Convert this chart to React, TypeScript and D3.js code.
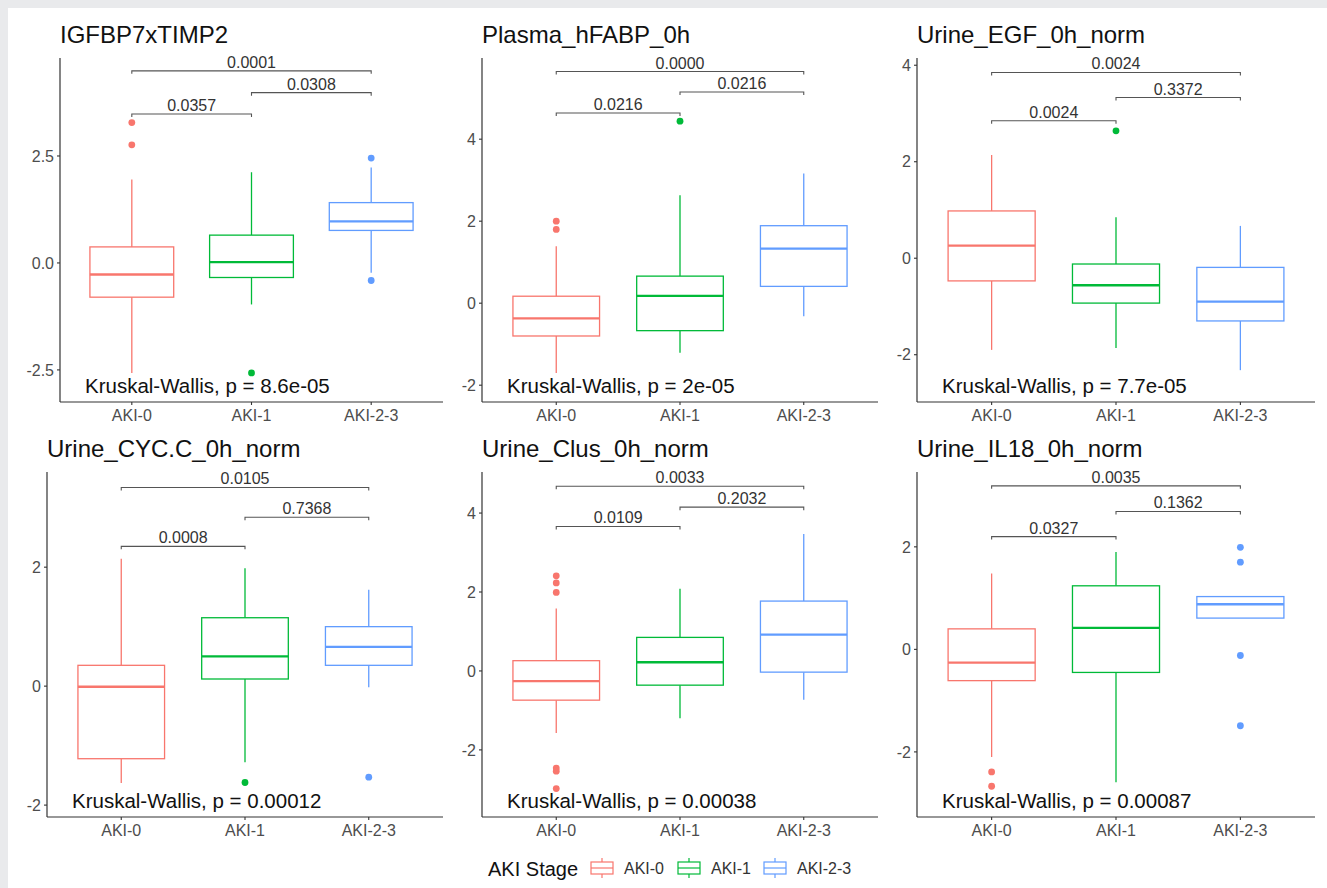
import React from "react";
import * as d3 from "d3";

// AKI stage groups and their ggplot-style hues
const groups = ["AKI-0", "AKI-1", "AKI-2-3"];
const groupColors = ["#F8766D", "#00BA38", "#619CFF"];
const legendTitle = "AKI Stage";

// Biomarkers, one panel each
const markers = [
  "IGFBP7xTIMP2",
  "Plasma_hFABP_0h",
  "Urine_EGF_0h_norm",
  "Urine_CYC.C_0h_norm",
  "Urine_Clus_0h_norm",
  "Urine_IL18_0h_norm",
];

// Box statistics per group: [lower whisker, Q1, median, Q3, upper whisker]
const igfbpBoxes = [
  [-2.57, -0.8, -0.27, 0.375, 1.95],
  [-0.97, -0.34, 0.02, 0.65, 2.12],
  [-0.23, 0.76, 0.97, 1.41, 2.23],
];
const hfabpBoxes = [
  [-1.7, -0.8, -0.37, 0.17, 1.39],
  [-1.21, -0.67, 0.18, 0.66, 2.63],
  [-0.32, 0.41, 1.33, 1.89, 3.16],
];
const egfBoxes = [
  [-1.9, -0.47, 0.26, 0.98, 2.14],
  [-1.86, -0.93, -0.56, -0.12, 0.85],
  [-2.32, -1.3, -0.9, -0.19, 0.67],
];
const cycBoxes = [
  [-1.63, -1.22, -0.01, 0.35, 2.14],
  [-1.28, 0.12, 0.5, 1.15, 1.98],
  [-0.02, 0.35, 0.66, 1.0, 1.62],
];
const clusBoxes = [
  [-1.57, -0.74, -0.26, 0.26, 1.58],
  [-1.2, -0.36, 0.22, 0.85, 2.08],
  [-0.73, -0.03, 0.92, 1.77, 3.47],
];
const il18Boxes = [
  [-2.1, -0.61, -0.26, 0.4, 1.48],
  [-2.59, -0.45, 0.42, 1.24, 1.9],
  [0.61, 0.61, 0.88, 1.03, 1.03],
];

// Outlying observations per group
const igfbpOutliers = [[3.28, 2.76], [-2.57], [2.45, -0.41]];
const hfabpOutliers = [[2.0, 1.8], [4.44], []];
const egfOutliers = [[], [2.64], []];
const cycOutliers = [[], [-1.62], [-1.53]];
const clusOutliers = [[2.41, 2.23, 1.99, -2.46, -2.54, -2.98], [], []];
const il18Outliers = [[-2.39, -2.67], [], [1.99, 1.7, -0.12, -1.49]];

// Pairwise comparisons: AKI-0 vs AKI-1, AKI-1 vs AKI-2-3, AKI-0 vs AKI-2-3
const comparisonPairs = [
  [0, 1],
  [1, 2],
  [0, 2],
];
const igfbpPairP = ["0.0357", "0.0308", "0.0001"];
const hfabpPairP = ["0.0216", "0.0216", "0.0000"];
const egfPairP = ["0.0024", "0.3372", "0.0024"];
const cycPairP = ["0.0008", "0.7368", "0.0105"];
const clusPairP = ["0.0109", "0.2032", "0.0033"];
const il18PairP = ["0.0327", "0.1362", "0.0035"];

// Bracket heights (data units) for the three comparisons
const igfbpBracketY = [3.48, 3.98, 4.49];
const hfabpBracketY = [4.64, 5.15, 5.65];
const egfBracketY = [2.85, 3.33, 3.85];
const cycBracketY = [2.35, 2.84, 3.34];
const clusBracketY = [3.66, 4.15, 4.68];
const il18BracketY = [2.2, 2.69, 3.19];

// Kruskal-Wallis global p-values
const kruskalP = ["8.6e-05", "2e-05", "7.7e-05", "0.00012", "0.00038", "0.00087"];

// Y axis extents and ticks
const yDomains = [
  [-3.25, 4.79],
  [-2.41, 5.98],
  [-2.98, 4.15],
  [-2.2, 3.6],
  [-3.7, 5.04],
  [-3.27, 3.46],
];
const yTicks = [
  [-2.5, 0, 2.5],
  [-2, 0, 2, 4],
  [-2, 0, 2, 4],
  [-2, 0, 2],
  [-2, 0, 2, 4],
  [-2, 0, 2],
];
const yTickFormats = [".1f", "d", "d", "d", "d", "d"];

const boxesByMarker = [igfbpBoxes, hfabpBoxes, egfBoxes, cycBoxes, clusBoxes, il18Boxes];
const outliersByMarker = [igfbpOutliers, hfabpOutliers, egfOutliers, cycOutliers, clusOutliers, il18Outliers];
const pairPByMarker = [igfbpPairP, hfabpPairP, egfPairP, cycPairP, clusPairP, il18PairP];
const bracketYByMarker = [igfbpBracketY, hfabpBracketY, egfBracketY, cycBracketY, clusBracketY, il18BracketY];

// Layout
const W = 1327;
const H = 888;
const FONT = "'Liberation Sans', Arial, Helvetica, sans-serif";
const panelLefts = [60, 482, 917, 47, 482, 917];
const colRights = [443, 878, 1315];
const rowTops = [58, 472];
const rowBottoms = [402, 817];

// Number formatting with a plain hyphen for negatives
const hyphenLocale = d3.formatLocale({
  decimal: ".",
  thousands: ",",
  grouping: [3],
  currency: ["", ""],
  minus: "-",
});

function Panel({ index }: { index: number }) {
  const col = index % 3;
  const row = Math.floor(index / 3);
  const left = panelLefts[index];
  const right = colRights[col];
  const top = rowTops[row];
  const bottom = rowBottoms[row];

  const x = d3.scalePoint<string>().domain(groups).range([left, right]).padding(0.6);
  const y = d3.scaleLinear().domain(yDomains[index]).range([bottom, top]);
  const bw = x.step() * 0.7;
  const fmt = hyphenLocale.format(yTickFormats[index]);

  const boxes = boxesByMarker[index];
  const outliers = outliersByMarker[index];
  const pvals = pairPByMarker[index];
  const bys = bracketYByMarker[index];

  const axisColor = "#333333";
  const tickText = "#4d4d4d";

  return (
    <g>
      {/* title */}
      <text x={left} y={top - 15} fontSize={24} fill="#111" fontFamily={FONT}>
        {markers[index]}
      </text>

      {/* boxes */}
      {groups.map((g, gi) => {
        const [lo, q1, med, q3, hi] = boxes[gi];
        const cx = x(g) as number;
        const c = groupColors[gi];
        return (
          <g key={g}>
            <line x1={cx} x2={cx} y1={y(hi)} y2={y(q3)} stroke={c} strokeWidth={1.3} />
            <line x1={cx} x2={cx} y1={y(q1)} y2={y(lo)} stroke={c} strokeWidth={1.3} />
            <rect
              x={cx - bw / 2}
              y={y(q3)}
              width={bw}
              height={Math.max(0, y(q1) - y(q3))}
              fill="white"
              stroke={c}
              strokeWidth={1.3}
            />
            <line x1={cx - bw / 2} x2={cx + bw / 2} y1={y(med)} y2={y(med)} stroke={c} strokeWidth={2.3} />
            {outliers[gi].map((v, k) => (
              <circle key={k} cx={cx} cy={y(v)} r={3.4} fill={c} />
            ))}
          </g>
        );
      })}

      {/* pairwise comparison brackets */}
      {comparisonPairs.map(([a, b], k) => {
        const xa = x(groups[a]) as number;
        const xb = x(groups[b]) as number;
        const yy = y(bys[k]);
        return (
          <g key={k}>
            <path
              d={`M${xa},${yy + 3}V${yy}H${xb}V${yy + 3}`}
              fill="none"
              stroke="#555"
              strokeWidth={1.1}
            />
            <text
              x={(xa + xb) / 2}
              y={yy - 3}
              textAnchor="middle"
              fontSize={16}
              fill="#333"
              fontFamily={FONT}
            >
              {pvals[k]}
            </text>
          </g>
        );
      })}

      {/* Kruskal-Wallis label */}
      <text x={left + 25} y={bottom - 9} fontSize={20.5} fill="#111" fontFamily={FONT}>
        {`Kruskal-Wallis, p = ${kruskalP[index]}`}
      </text>

      {/* axes */}
      <line x1={left} x2={left} y1={top} y2={bottom} stroke={axisColor} strokeWidth={1.2} />
      <line x1={left} x2={right} y1={bottom} y2={bottom} stroke={axisColor} strokeWidth={1.2} />
      {yTicks[index].map((t) => (
        <g key={t}>
          <line x1={left - 3} x2={left} y1={y(t)} y2={y(t)} stroke={axisColor} strokeWidth={1.1} />
          <text
            x={left - 6}
            y={y(t)}
            dy="0.36em"
            textAnchor="end"
            fontSize={16}
            fill={tickText}
            fontFamily={FONT}
          >
            {fmt(t)}
          </text>
        </g>
      ))}
      {groups.map((g) => (
        <g key={g}>
          <line x1={x(g)} x2={x(g)} y1={bottom} y2={bottom + 3} stroke={axisColor} strokeWidth={1.1} />
          <text
            x={x(g)}
            y={bottom + 19}
            textAnchor="middle"
            fontSize={16}
            fill={tickText}
            fontFamily={FONT}
          >
            {g}
          </text>
        </g>
      ))}
    </g>
  );
}

function Legend() {
  const keyX = [591, 678, 764];
  const labelX = [624, 711, 797];
  const cy = 868;
  return (
    <g>
      <text x={488} y={876} fontSize={20} fill="#111" fontFamily={FONT}>
        {legendTitle}
      </text>
      {groups.map((g, gi) => {
        const c = groupColors[gi];
        const kx = keyX[gi];
        return (
          <g key={g}>
            <line x1={kx + 11} x2={kx + 11} y1={cy - 10} y2={cy - 6} stroke={c} strokeWidth={1.2} />
            <line x1={kx + 11} x2={kx + 11} y1={cy + 6} y2={cy + 10} stroke={c} strokeWidth={1.2} />
            <rect x={kx} y={cy - 6} width={22} height={12} fill="white" stroke={c} strokeWidth={1.2} />
            <line x1={kx} x2={kx + 22} y1={cy} y2={cy} stroke={c} strokeWidth={1.2} />
            <text x={labelX[gi]} y={cy + 6} fontSize={16} fill="#333" fontFamily={FONT}>
              {g}
            </text>
          </g>
        );
      })}
    </g>
  );
}

export default function App() {
  return (
    <div style={{ position: "absolute", left: 0, top: 0 }}>
      <svg width={W} height={H} viewBox={`0 0 ${W} ${H}`} style={{ display: "block" }}>
        <rect x={0} y={0} width={W} height={H} fill="#e9eaec" />
        <rect x={8} y={8} width={W - 8} height={H - 8} fill="#ffffff" />
        {markers.map((m, i) => (
          <Panel key={m} index={i} />
        ))}
        <Legend />
      </svg>
    </div>
  );
}
